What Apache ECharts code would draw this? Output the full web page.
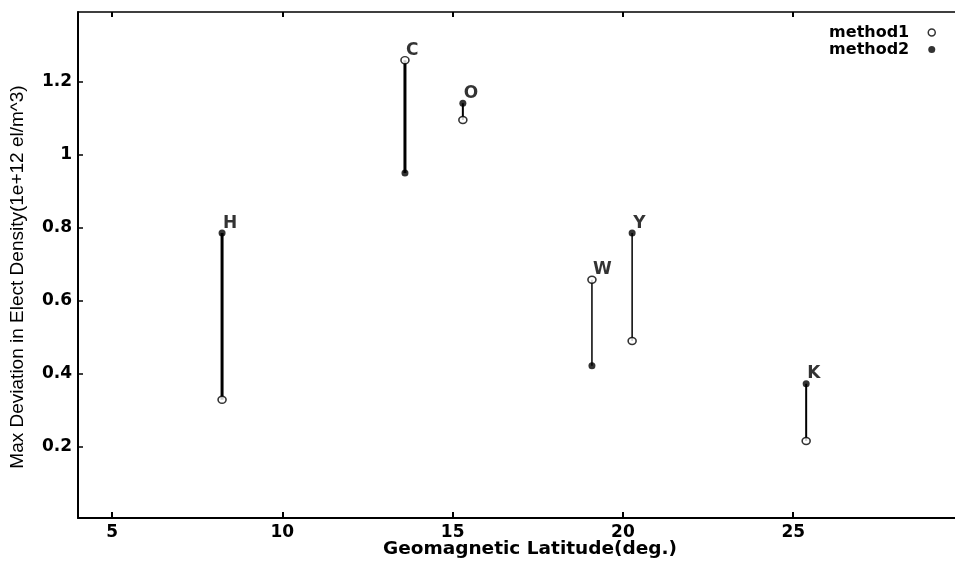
<!DOCTYPE html>
<html>
<head>
<meta charset="utf-8">
<script src="https://cdn.jsdelivr.net/npm/echarts@6/dist/echarts.min.js"></script>
<style>html,body{margin:0;padding:0;background:#fff}#c{width:955px;height:561px}</style>
</head>
<body>
<div id="c"></div>
<script>
// ---- data ----
var stations = ['H', 'C', 'O', 'W', 'Y', 'K'];
var latitude = [8.23, 13.6, 15.3, 19.09, 20.27, 25.38];
var method1 = [0.329, 1.26, 1.096, 0.658, 0.49, 0.216];
var method2 = [0.786, 0.951, 1.142, 0.422, 0.786, 0.373];
var xTicks = [5, 10, 15, 20, 25];
var yTicks = [0.2, 0.4, 0.6, 0.8, 1.0, 1.2];
var xRange = [4.0, 29.75];
var yRange = [0.005, 1.392];

// ---- style ----
var lineWidths = [3, 3, 2, 1.5, 1.5, 2];
var FONT = 'DejaVu Sans, sans-serif';
var NAMEFONT = 'Liberation Sans, Arial, sans-serif';

var series = [];
stations.forEach(function (s, i) {
  series.push({
    type: 'line',
    name: 'link_' + s,
    data: [[latitude[i], method1[i]], [latitude[i], method2[i]]],
    symbol: 'none',
    lineStyle: { color: '#000', width: lineWidths[i] },
    silent: true,
    z: 1
  });
});
series.push({
  type: 'scatter', name: 'method1',
  data: latitude.map(function (x, i) { return [x, method1[i]]; }),
  symbol: 'circle', symbolSize: [8, 7],
  itemStyle: { color: '#fff', borderColor: '#000', borderWidth: 1.5 },
  z: 3
});
series.push({
  type: 'scatter', name: 'method2',
  data: latitude.map(function (x, i) { return [x, method2[i]]; }),
  symbol: 'circle', symbolSize: 7,
  itemStyle: { color: '#000' },
  z: 3
});
// station labels at the top point of each pair
series.push({
  type: 'scatter', name: 'labels',
  data: latitude.map(function (x, i) {
    return { value: [x, Math.max(method1[i], method2[i])], name: stations[i] };
  }),
  symbolSize: 0,
  silent: true,
  label: {
    show: true, formatter: '{b}', position: [1, -10], align: 'left', verticalAlign: 'middle',
    color: '#000', fontFamily: FONT, fontWeight: 'bold', fontSize: 17
  },
  z: 4
});

var option = {
  animation: false,
  backgroundColor: '#fff',
  grid: { left: 78, top: 12, right: 0, bottom: 43, containLabel: false, outerBoundsMode: 'none' },
  legend: {
    data: [
      { name: 'method1', icon: 'circle', itemStyle: { color: '#fff', borderColor: '#000', borderWidth: 1.5 } },
      { name: 'method2', icon: 'circle', itemStyle: { color: '#000' } }
    ],
    orient: 'vertical', right: 19, top: 24, align: 'right',
    itemWidth: 7, itemHeight: 7, itemGap: 0, padding: 0,
    textStyle: { fontFamily: FONT, fontWeight: 'bold', fontSize: 16, color: '#000', lineHeight: 17, padding: [0, 14, 0, 0] }
  },
  xAxis: [{
    type: 'value', min: xRange[0], max: xRange[1],
    name: 'Geomagnetic Latitude(deg.)', nameLocation: 'middle', nameGap: 22, nameMoveOverlap: false,
    nameTextStyle: { fontFamily: FONT, fontWeight: 'bold', fontSize: 18.5, color: '#000', padding: [0, 0, 0, 27] },
    axisLine: { show: true, onZero: false, lineStyle: { color: '#000', width: 2 } },
    axisTick: { show: true, inside: true, length: 6, customValues: xTicks, lineStyle: { color: '#000', width: 2 } },
    axisLabel: { customValues: xTicks, margin: 6, fontFamily: FONT, fontWeight: 'bold', fontSize: 17, color: '#000' },
    splitLine: { show: false }
  }, {
    type: 'value', min: xRange[0], max: xRange[1], position: 'top',
    axisLine: { show: true, lineStyle: { color: '#000', width: 1.5 } },
    axisTick: { show: true, inside: true, length: 5, customValues: xTicks, lineStyle: { color: '#000', width: 2 } },
    axisLabel: { show: false },
    splitLine: { show: false }
  }],
  yAxis: {
    type: 'value', min: yRange[0], max: yRange[1],
    name: 'Max Deviation in Elect Density(1e+12 el/m^3)', nameLocation: 'middle', nameGap: 51, nameRotate: 90, nameMoveOverlap: false,
    nameTextStyle: { fontFamily: NAMEFONT, fontSize: 19, color: '#000', padding: [0, 24, 0, 0] },
    axisLine: { show: true, onZero: false, lineStyle: { color: '#000', width: 2 } },
    axisTick: { show: true, inside: true, length: 5, customValues: yTicks, lineStyle: { color: '#000', width: 1.5 } },
    axisLabel: {
      customValues: yTicks, margin: 6, fontFamily: FONT, fontWeight: 'bold', fontSize: 17, color: '#000',
      formatter: function (v) { return String(Math.round(v * 10) / 10); }
    },
    splitLine: { show: false }
  },
  series: series
};

var chart = echarts.init(document.getElementById('c'), null, { renderer: 'canvas' });
chart.setOption(option);
</script>
</body>
</html>
